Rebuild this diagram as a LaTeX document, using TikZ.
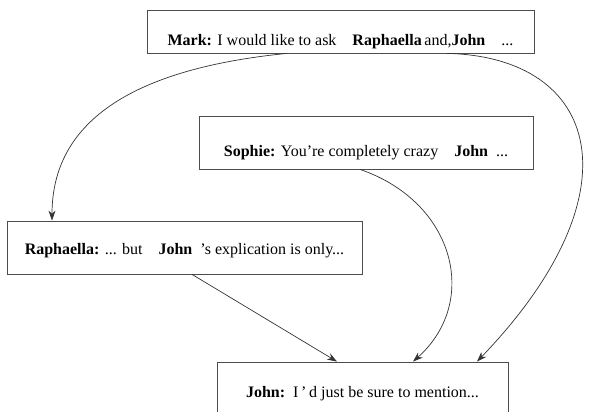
\documentclass[tikz,border=0pt]{standalone}
\usepackage{fontspec}
\setmainfont{Liberation Serif}
\usetikzlibrary{arrows.meta}

\begin{document}
\begin{tikzpicture}[x=1pt, y=1pt,
every node/.style = {shape=rectangle, draw=gray!60!black, line width=0.8pt,
	inner sep=0pt, font=\fontsize{16}{18}\selectfont, text depth=0pt},
reply/.style = {-{Stealth[length=10pt,width=7pt]}, draw=black!80, line width=0.7pt}]
	\useasboundingbox (0,0) rectangle (592,412);
	% messages
	\node[minimum width=387, minimum height=43, text height=29pt] (Mark) at (340.5,380.5)
		{\textbf{Mark:} I would like to ask\quad\textbf{Raphaella}\,and,\textbf{John}\quad...};
	\node[minimum width=334, minimum height=53, text height=29pt] (Sophie) at (366,269.5)
		{\textbf{Sophie:} You're completely crazy\quad\textbf{John}\ \ ...};
	\node[minimum width=355, minimum height=53, text height=15pt] (Raphaella) at (184.5,164.5)
		{\textbf{Raphaella:} ... but\quad\textbf{John}\ \ 's explication is only...};
	\node[minimum width=291, minimum height=52, text height=20pt] (John) at (362.5,24)
		{\textbf{John:}\ \ I\,'\,d just be sure to mention...};
	% replies
	\draw[reply] (Mark.south -| 287,0) .. controls (150,345) and (52,300) .. (Raphaella.north -| 52,0);
	\draw[reply] (Mark.south -| 447,0) .. controls (600,355) and (640,220) .. (John.north -| 477,0);
	\draw[reply] (Sophie.south -| 360,0) .. controls (455,210) and (480,110) .. (John.north -| 413,0);
	\draw[reply] (Raphaella.south -| 192,0) -- (John.north -| 337,0);
\end{tikzpicture}
\end{document}
